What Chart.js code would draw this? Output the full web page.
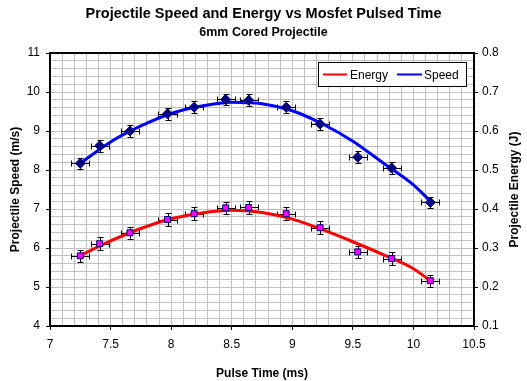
<!DOCTYPE html>
<html>
<head>
<meta charset="utf-8">
<script src="https://cdn.jsdelivr.net/npm/chart.js@4/dist/chart.umd.min.js"></script>
<style>
  html, body { margin: 0; padding: 0; background: #fff; }
  #wrap { width: 527px; height: 381px; }
</style>
</head>
<body>
<div id="wrap"><canvas id="c" width="527" height="381"></canvas></div>
<script>
// Measured points
const pulseTime = [7.25, 7.41, 7.66, 7.97, 8.19, 8.45, 8.64, 8.95, 9.23, 9.54, 9.82, 10.14];
const speed     = [8.17, 8.62, 9.00, 9.44, 9.61, 9.81, 9.79, 9.61, 9.18, 8.33, 8.05, 7.17];
const energy    = [0.280, 0.311, 0.339, 0.373, 0.388, 0.403, 0.404, 0.388, 0.352, 0.290, 0.273, 0.216];
// Error bar half-widths
const timeErr   = 0.075;
const speedErr  = 0.15;
const energyErr = 0.016;
// Trend lines
const trendX      = [7.25, 7.5, 7.75, 8.0, 8.25, 8.5, 8.75, 9.0, 9.25, 9.5, 9.75, 10.0, 10.14];
const speedTrend  = [8.17, 8.72, 9.13, 9.45, 9.64, 9.74, 9.70, 9.52, 9.18, 8.74, 8.18, 7.62, 7.20];
const energyTrend = [0.281, 0.318, 0.350, 0.375, 0.390, 0.397, 0.391, 0.374, 0.347, 0.316, 0.283, 0.247, 0.216];
// Axis tick labels
const xTickLabels  = ['7', '7.5', '8', '8.5', '9', '9.5', '10', '10.5'];
const yTickLabels  = ['4', '5', '6', '7', '8', '9', '10', '11'];
const y2TickLabels = ['0.1', '0.2', '0.3', '0.4', '0.5', '0.6', '0.7', '0.8'];

const FONT = '"Liberation Sans", Arial, sans-serif';
Chart.defaults.font.family = FONT;
Chart.defaults.color = '#000';

const pts = (xs, ys) => xs.map((x, i) => ({ x: x, y: ys[i] }));
const near = (v, arr) => arr.some(l => Math.abs(parseFloat(l) - v) < 1e-6);
const labelFor = (v, arr) => { const l = arr.find(s => Math.abs(parseFloat(s) - v) < 1e-6); return l === undefined ? '' : l; };

const errorBars = {
  id: 'errorBars',
  beforeDatasetsDraw(chart) {
    const ctx = chart.ctx, xs = chart.scales.x;
    const sets = [[chart.scales.y, speed, speedErr], [chart.scales.y2, energy, energyErr]];
    ctx.save();
    ctx.strokeStyle = '#000';
    ctx.lineWidth = 1;
    sets.forEach(([ys, vals, err]) => {
      pulseTime.forEach((t, i) => {
        const px = Math.round(xs.getPixelForValue(t)) + 0.5;
        const py = Math.round(ys.getPixelForValue(vals[i])) + 0.5;
        const xl = Math.round(xs.getPixelForValue(t - timeErr)) + 0.5;
        const xr = Math.round(xs.getPixelForValue(t + timeErr)) + 0.5;
        const yt = Math.round(ys.getPixelForValue(vals[i] + err)) + 0.5;
        const yb = Math.round(ys.getPixelForValue(vals[i] - err)) + 0.5;
        ctx.beginPath();
        ctx.moveTo(xl, py); ctx.lineTo(xr, py);
        ctx.moveTo(xl, py - 3); ctx.lineTo(xl, py + 3);
        ctx.moveTo(xr, py - 3); ctx.lineTo(xr, py + 3);
        ctx.moveTo(px, yt); ctx.lineTo(px, yb);
        ctx.moveTo(px - 3, yt); ctx.lineTo(px + 3, yt);
        ctx.moveTo(px - 3, yb); ctx.lineTo(px + 3, yb);
        ctx.stroke();
      });
    });
    ctx.restore();
  }
};

const frame = {
  id: 'frame',
  afterDraw(chart) {
    const ctx = chart.ctx, a = chart.chartArea;
    ctx.save();
    ctx.strokeStyle = '#000';
    ctx.lineWidth = 2;
    ctx.strokeRect(a.left, a.top, a.right - a.left, a.bottom - a.top);
    // legend
    const lx = 318.5, ly = 62.5, lw = 148, lh = 24;
    ctx.fillStyle = '#fff';
    ctx.fillRect(lx, ly, lw, lh);
    ctx.lineWidth = 1;
    ctx.strokeRect(lx, ly, lw, lh);
    const cy = ly + lh / 2;
    ctx.lineWidth = 2;
    ctx.strokeStyle = '#ff0000';
    ctx.beginPath(); ctx.moveTo(323, cy); ctx.lineTo(347, cy); ctx.stroke();
    ctx.strokeStyle = '#0000ff';
    ctx.beginPath(); ctx.moveTo(397, cy); ctx.lineTo(422, cy); ctx.stroke();
    ctx.fillStyle = '#000';
    ctx.font = '12px ' + FONT;
    ctx.textBaseline = 'middle';
    ctx.textAlign = 'left';
    ctx.fillText('Energy', 350, cy + 1);
    ctx.fillText('Speed', 424, cy + 1);
    // right axis title (reads bottom to top)
    ctx.font = 'bold 12px ' + FONT;
    ctx.textAlign = 'center';
    ctx.translate(515, (a.top + a.bottom) / 2);
    ctx.rotate(-Math.PI / 2);
    ctx.fillText('Projectile Energy (J)', 0, 0);
    ctx.restore();
  }
};

new Chart(document.getElementById('c'), {
  type: 'scatter',
  data: {
    datasets: [
      { label: 'Speed pts', data: pts(pulseTime, speed), yAxisID: 'y',
        pointStyle: 'rectRot', pointRadius: 5, backgroundColor: '#000080', borderColor: '#000080', borderWidth: 1 },
      { label: 'Energy pts', data: pts(pulseTime, energy), yAxisID: 'y2',
        pointStyle: 'rect', pointRadius: 4.2, backgroundColor: '#ff00ff', borderColor: '#000080', borderWidth: 1 },
      { label: 'Speed', data: pts(trendX, speedTrend), yAxisID: 'y', showLine: true,
        borderColor: '#0000ff', borderWidth: 3, pointRadius: 0, tension: 0.4, cubicInterpolationMode: 'monotone' },
      { label: 'Energy', data: pts(trendX, energyTrend), yAxisID: 'y2', showLine: true,
        borderColor: '#ff0000', borderWidth: 3, pointRadius: 0, tension: 0.4, cubicInterpolationMode: 'monotone' }
    ]
  },
  options: {
    responsive: false,
    animation: false,
    layout: { padding: 0 },
    plugins: {
      legend: { display: false },
      tooltip: { enabled: false },
      title: { display: true, text: 'Projectile Speed and Energy vs Mosfet Pulsed Time',
        font: { size: 14.5, weight: 'bold' }, padding: { top: 5, bottom: 2 }, color: '#000' },
      subtitle: { display: true, text: '6mm Cored Projectile',
        font: { size: 12.5, weight: 'bold' }, padding: { top: 1, bottom: 12.6 }, color: '#000' }
    },
    scales: {
      x: {
        type: 'linear', position: 'bottom', min: 7, max: 10.5,
        afterFit(s) { s.height = 55; },
        ticks: { stepSize: 0.1, autoSkip: false, maxRotation: 0, padding: 7, font: { size: 12 },
          callback: (v) => labelFor(v, xTickLabels) },
        grid: { color: '#c0c0c0', lineWidth: 1, tickLength: 4,
          tickColor: (c) => (c.tick && near(c.tick.value, xTickLabels)) ? '#000' : 'rgba(0,0,0,0)' },
        border: { color: '#000', width: 2 },
        title: { display: true, text: 'Pulse Time (ms)', font: { size: 12, weight: 'bold' }, padding: { top: 6, bottom: 0 } }
      },
      y: {
        type: 'linear', position: 'left', min: 4, max: 11,
        afterFit(s) { s.width = 50; },
        ticks: { stepSize: 0.2, autoSkip: false, padding: 6, font: { size: 12 },
          callback: (v) => labelFor(v, yTickLabels) },
        grid: { color: '#c0c0c0', lineWidth: 1, tickLength: 4,
          tickColor: (c) => (c.tick && near(c.tick.value, yTickLabels)) ? '#000' : 'rgba(0,0,0,0)' },
        border: { color: '#000', width: 2 },
        title: { display: true, text: 'Projectile Speed (m/s)', font: { size: 12, weight: 'bold' }, padding: { top: 8, bottom: 0 } }
      },
      y2: {
        type: 'linear', position: 'right', min: 0.1, max: 0.8,
        afterFit(s) { s.width = 53; },
        ticks: { stepSize: 0.1, autoSkip: false, padding: 4, font: { size: 12 },
          callback: (v) => labelFor(v, y2TickLabels) },
        grid: { drawOnChartArea: false, tickLength: 4, tickColor: '#000' },
        border: { color: '#000', width: 2 },
        title: { display: false }
      }
    }
  },
  plugins: [errorBars, frame]
});
</script>
</body>
</html>
